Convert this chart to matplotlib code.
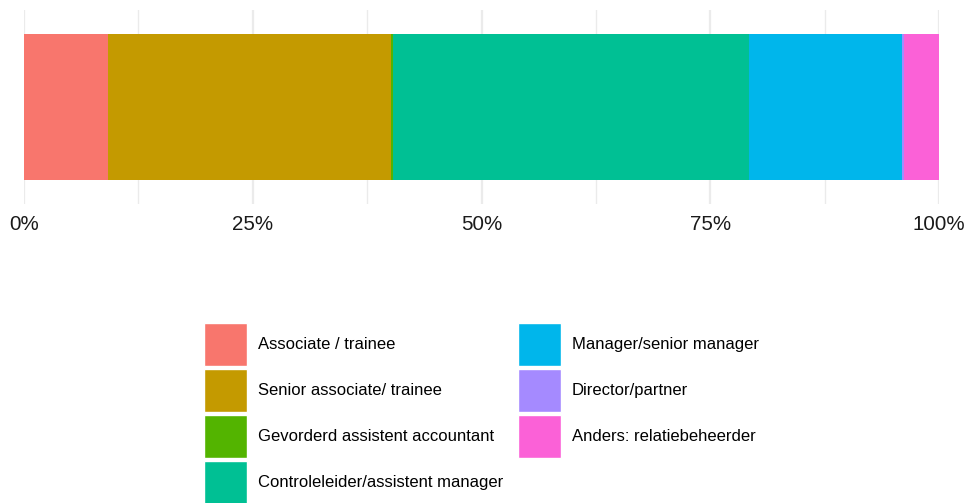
# gestapelde 100% staafgrafiek - functieniveau
import matplotlib.pyplot as plt
from matplotlib.patches import Patch
from matplotlib.ticker import FuncFormatter, MultipleLocator

plt.rcParams['font.family'] = ['Liberation Sans', 'DejaVu Sans']

categories = ['Associate / trainee', 'Senior associate/ trainee',
              'Gevorderd assistent accountant', 'Controleleider/assistent manager',
              'Manager/senior manager', 'Director/partner', 'Anders: relatiebeheerder']
shares = [9.15, 30.95, 0.25, 38.85, 16.8, 0.15, 3.85]   # procent
colors = ['#F8766D', '#C49A00', '#53B400', '#00C094', '#00B6EB', '#A58AFF', '#FB61D7']
tick_values = [0, 25, 50, 75, 100]

W, H = 967, 503
fig = plt.figure(figsize=(W / 100, H / 100), dpi=100)
ax = fig.add_axes([24 / W, 1 - 204 / H, 915 / W, 194 / H])

left = 0
for cat, val, col in zip(categories, shares, colors):
    ax.barh(0, val, left=left, height=1, color=col, label=cat, zorder=3)
    left += val

ax.set_xlim(0, 100)
ax.set_ylim(-194 / 146 / 2, 194 / 146 / 2)
ax.set_xticks(tick_values)
ax.xaxis.set_major_formatter(FuncFormatter(lambda v, p: f'{v:.0f}%'))
ax.xaxis.set_minor_locator(MultipleLocator(12.5))
ax.grid(axis='x', which='major', color='#EBEBEB', linewidth=1.6, zorder=0)
ax.grid(axis='x', which='minor', color='#EBEBEB', linewidth=1.0, zorder=0)
ax.set_yticks([])
ax.tick_params(axis='x', which='both', length=0, pad=8, labelsize=14.8, labelcolor='#1A1A1A')
for s in ax.spines.values():
    s.set_visible(False)

handles = [Patch(facecolor=c, edgecolor='white', linewidth=1) for c in colors]
fig.legend(handles, categories, ncol=2, loc='upper left',
           bbox_to_anchor=(204 / W, 1 - 323 / H), frameon=False,
           fontsize=12, handlelength=2.6, handleheight=3.6,
           labelspacing=0.17, handletextpad=0.65, columnspacing=0.85,
           borderpad=0, borderaxespad=0)

fig.savefig('out.png', dpi=100)
